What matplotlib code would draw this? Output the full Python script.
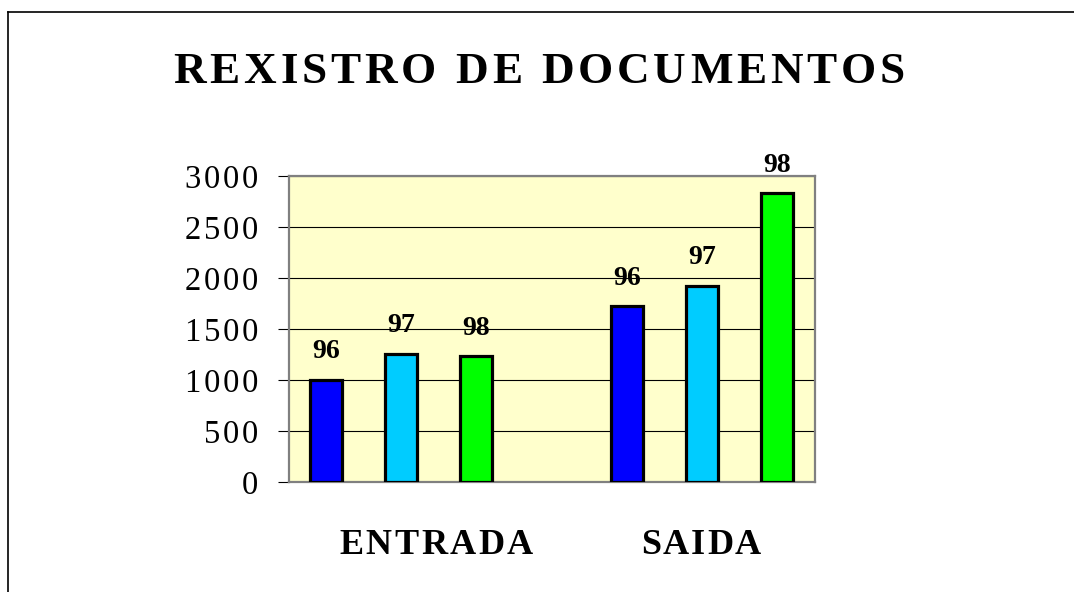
import numpy as np
import matplotlib
matplotlib.use("Agg")
import matplotlib.pyplot as plt
from matplotlib.lines import Line2D

# Data
groups = ["ENTRADA", "SAIDA"]
years = ["96", "97", "98"]
entrada = [1000, 1255, 1235]
saida = [1725, 1922, 2833]
colors = ["#0000FF", "#00CCFF", "#00FF00"]
yticks = [0, 500, 1000, 1500, 2000, 2500, 3000]

W, H = 1074, 592
plt.rcParams["font.family"] = ["Liberation Serif", "DejaVu Serif"]

fig = plt.figure(figsize=(W / 100, H / 100), dpi=100)
fig.patch.set_facecolor("white")

# outer frame (only top and left edges visible)
fig.add_artist(Line2D([8 / W, 1], [1 - 12 / H, 1 - 12 / H], color="black", lw=1.2, transform=fig.transFigure))
fig.add_artist(Line2D([8 / W, 8 / W], [0, 1 - 12 / H], color="black", lw=1.2, transform=fig.transFigure))

ax = fig.add_axes([289 / W, 1 - 482 / H, 526 / W, 306 / H])
ax.set_facecolor("#FFFFCC")

offsets = [-0.249, 0.0, 0.249]
vals = [entrada, saida]
for j in range(len(years)):
    xs = [g + offsets[j] for g in range(len(groups))]
    ys = [vals[g][j] for g in range(len(groups))]
    bars = ax.bar(xs, ys, width=0.106, color=colors[j], edgecolor="black", linewidth=2.3, zorder=3)
    for b, v in zip(bars, ys):
        ax.annotate(years[j], (b.get_x() + b.get_width() / 2, v), xytext=(0, 15.5),
                    textcoords="offset points", ha="center", va="baseline",
                    fontsize=20, fontweight="bold", annotation_clip=False)

ax.set_xlim(-0.372, 1.375)
ax.set_ylim(0, 3000)
ax.set_yticks(yticks)
# hair spaces between digits to get the wide spacing of the original
ax.set_yticklabels(["\u200a".join(str(t)) for t in yticks], fontsize=23.5)
ax.set_xticks([])
ax.yaxis.grid(True, color="black", linewidth=0.8, zorder=0)
ax.set_axisbelow(True)
ax.tick_params(axis="y", length=8, width=0.8, color="black", pad=14)
for s in ax.spines.values():
    s.set_color("#808080")
    s.set_linewidth(1.6)


def spaced_text(s, x_px, base_px, size, target_w):
    # draw text char by char so the letters can be spread like the original
    r = fig.canvas.get_renderer()
    prop = matplotlib.font_manager.FontProperties(family="Liberation Serif", weight="bold", size=size)
    def w(t):
        return r.get_text_width_height_descent(t, prop, ismath=False)[0]
    adv = [w("I" + c + "I") - w("II") for c in s]
    natural = sum(adv[:-1]) + w(s[-1])
    sp = (target_w - natural) / (len(s) - 1)
    x = x_px
    for c, a in zip(s, adv):
        fig.text(x / W, 1 - base_px / H, c, fontproperties=prop, ha="left", va="baseline")
        x += a + sp


spaced_text("REXISTRO DE DOCUMENTOS", 173, 83, 32.5, 732)
spaced_text(groups[0], 339, 554, 26, 194)
spaced_text(groups[1], 641, 554, 26, 120)

fig.savefig("out.png", dpi=100)
